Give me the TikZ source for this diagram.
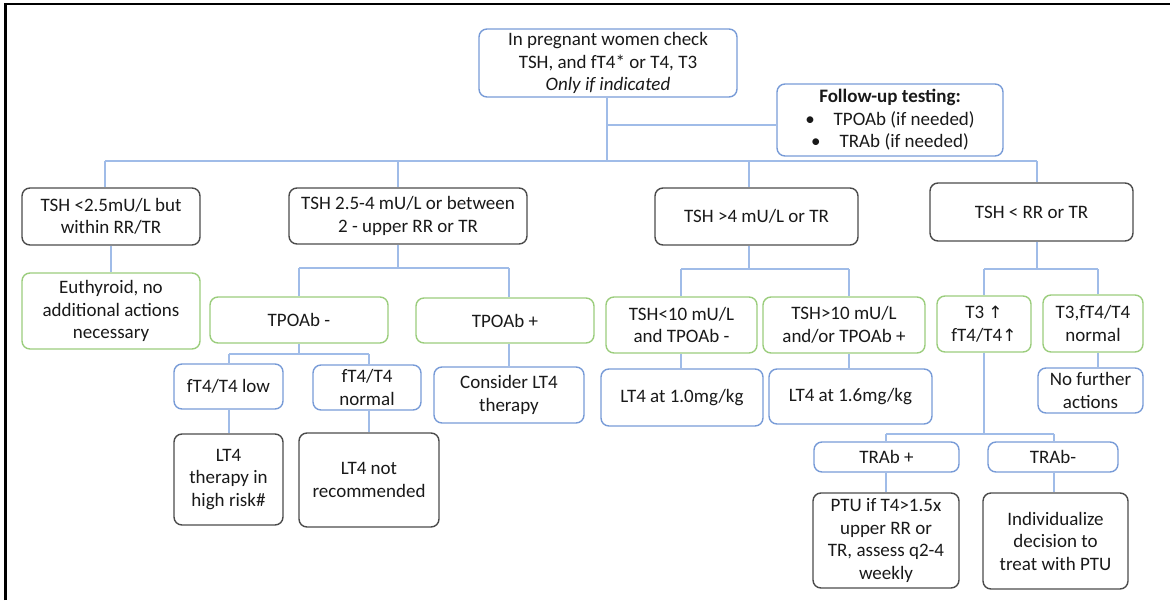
\documentclass[tikz,border=0pt]{standalone}
\usepackage{fontspec}
\setmainfont{Carlito}
\newfontfamily\arrowfont{DejaVu Sans}
\definecolor{connc}{RGB}{160,188,232}
\definecolor{blueb}{RGB}{120,155,215}
\definecolor{greenb}{RGB}{155,205,125}
\definecolor{darkb}{RGB}{75,75,75}
\begin{document}
\begin{tikzpicture}[x=1pt,y=-1pt,
  box/.style={draw, rounded corners=8pt, align=center, inner sep=0pt, line width=1.4pt,
              font=\fontsize{19}{22.5}\selectfont, text=black!90},
  bbox/.style={box, draw=blueb},
  gbox/.style={box, draw=greenb},
  kbox/.style={box, draw=darkb},
  sz/.style 2 args={minimum width=#1, minimum height=#2},
  conn/.style={draw=connc, line width=1.2pt}]
\useasboundingbox (0,0) rectangle (1170,600);
% frame lines
\draw[line width=2.2pt, black] (5.5,600) -- (5.5,4) -- (1170,4);

% nodes
\node[bbox,sz={258}{68}] (root) at (608,63) {In pregnant women check\\TSH, and fT4* or T4, T3\\\textit{Only if indicated}};
\node[bbox,sz={226}{72}] (fu) at (890,120) {\textbf{Follow-up testing:}\\•\hspace{1em}TPOAb (if needed)\\•\hspace{1em}TRAb (if needed)};

\node[kbox,sz={178}{57}] (A1) at (111,216.5) {TSH <2.5mU/L but\\within RR/TR};
\node[kbox,sz={238}{56}] (A2) at (408,216) {TSH 2.5-4 mU/L or between\\2 - upper RR or TR};
\node[kbox,sz={203}{57}] (A3) at (756.5,216.5) {TSH >4 mU/L or TR};
\node[kbox,sz={203}{58}] (A4) at (1031.5,212) {TSH < RR or TR};

\node[gbox,sz={178}{76}] (eu) at (111,311) {Euthyroid, no\\additional actions\\necessary};
\node[gbox,sz={178}{46}] (tpm) at (299,320) {TPOAb -};
\node[gbox,sz={178}{45}] (tpp) at (505,320.5) {TPOAb +};
\node[bbox,sz={109}{45}] (low) at (228.5,386.5) {fT4/T4 low};
\node[bbox,sz={108}{45}] (norm) at (367,387.5) {fT4/T4\\normal};
\node[kbox,sz={109}{91}] (hr) at (228.5,479.5) {LT4\\therapy in\\high risk\#};
\node[kbox,sz={140}{94}] (nr) at (369,480) {LT4 not\\recommended};
\node[bbox,sz={150}{56}] (cons) at (509,395) {Consider LT4\\therapy};

\node[gbox,sz={151}{56}] (t10) at (681.5,325) {TSH<10 mU/L\\and TPOAb -};
\node[gbox,sz={162}{56}] (g10) at (844,325) {TSH>10 mU/L\\and/or TPOAb +};
\node[bbox,sz={162}{57}] (l10) at (682,397.5) {LT4 at 1.0mg/kg};
\node[bbox,sz={163}{55}] (l16) at (850.5,396.5) {LT4 at 1.6mg/kg};

\node[gbox,sz={94}{56}] (t3u) at (984,324) {T3 {\arrowfont\fontsize{17}{20}\selectfont ↑}\\fT4/T4{\arrowfont\fontsize{17}{20}\selectfont ↑}};
\node[gbox,sz={100}{57}] (t3n) at (1093,323.5) {T3,fT4/T4\\normal};
\node[bbox,sz={105}{45}] (nf) at (1090.5,390.5) {No further\\actions};
\node[bbox,sz={145}{30}] (trp) at (886.5,457) {TRAb +};
\node[bbox,sz={130}{30}] (trm) at (1053,457) {TRAb-};
\node[kbox,sz={146}{95}] (ptu) at (886,540.5) {PTU if T4>1.5x\\upper RR or\\TR, assess q2-4\\weekly};
\node[kbox,sz={145}{96}] (ind) at (1055.5,541) {Individualize\\decision to\\treat with PTU};

% junction coordinates
\coordinate (rj) at (607,161);
\coordinate (fj) at (607,125);
\coordinate (b1) at (105,161);
\coordinate (b2) at (398,161);
\coordinate (b3) at (749,161);
\coordinate (b4) at (1037,161);
\coordinate (s2) at (398,268);
\coordinate (s2l) at (299,268);
\coordinate (s2r) at (509,268);
\coordinate (s5) at (299,354);
\coordinate (s5l) at (229,354);
\coordinate (s5r) at (369,354);
\coordinate (s3) at (749,269);
\coordinate (s3l) at (681,269);
\coordinate (s3r) at (849,269);
\coordinate (s4) at (1037,269);
\coordinate (s4l) at (984,269);
\coordinate (s4r) at (1098,269);
\coordinate (s6) at (984,434);
\coordinate (s6l) at (886,434);
\coordinate (s6r) at (1054,434);

% connectors
\draw[conn] (root.south -| rj) -- (rj);
\draw[conn] (fj) -- (fj -| fu.west);
\draw[conn] (b1) -- (b4);
\draw[conn] (b1) -- (b1 |- A1.north);
\draw[conn] (b2) -- (b2 |- A2.north);
\draw[conn] (b3) -- (b3 |- A3.north);
\draw[conn] (b4) -- (b4 |- A4.north);

\draw[conn] (A1.south) -- (eu.north);

\draw[conn] (A2.south -| s2) -- (s2);
\draw[conn] (s2l) -- (s2r);
\draw[conn] (s2l) -- (tpm.north);
\draw[conn] (s2r) -- (s2r |- tpp.north);
\draw[conn] (tpm.south) -- (s5);
\draw[conn] (s5l) -- (s5r);
\draw[conn] (s5l) -- (s5l |- low.north);
\draw[conn] (s5r) -- (s5r |- norm.north);
\draw[conn] (low.south -| s5l) -- (s5l |- hr.north);
\draw[conn] (norm.south -| s5r) -- (s5r |- nr.north);
\draw[conn] (tpp.south -| s2r) -- (s2r |- cons.north);

\draw[conn] (A3.south -| s3) -- (s3);
\draw[conn] (s3l) -- (s3r);
\draw[conn] (s3l) -- (s3l |- t10.north);
\draw[conn] (s3r) -- (s3r |- g10.north);
\draw[conn] (t10.south -| s3l) -- (s3l |- l10.north);
\draw[conn] (g10.south -| s3r) -- (s3r |- l16.north);

\draw[conn] (A4.south -| s4) -- (s4);
\draw[conn] (s4l) -- (s4r);
\draw[conn] (s4l) -- (t3u.north);
\draw[conn] (s4r) -- (s4r |- t3n.north);
\draw[conn] (t3n.south -| s4r) -- (s4r |- nf.north);
\draw[conn] (t3u.south) -- (s6);
\draw[conn] (s6l) -- (s6r);
\draw[conn] (s6l) -- (s6l |- trp.north);
\draw[conn] (s6r) -- (s6r |- trm.north);
\draw[conn] (trp.south -| s6l) -- (s6l |- ptu.north);
\draw[conn] (trm.south -| s6r) -- (s6r |- ind.north);
\end{tikzpicture}
\end{document}
